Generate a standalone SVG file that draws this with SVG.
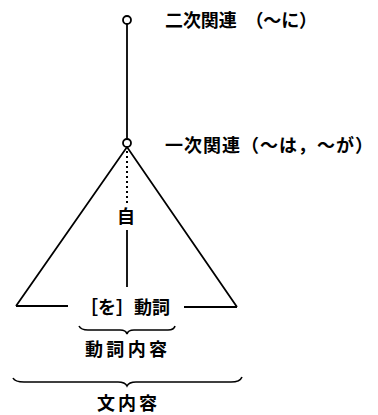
<svg xmlns="http://www.w3.org/2000/svg" width="378" height="415" viewBox="0 0 378 415">
<style>
.ln{stroke:#000;stroke-width:1.8;fill:none}
.dot{stroke:#000;stroke-width:2;fill:none;stroke-dasharray:2 3}
.br{stroke:#000;stroke-width:1.6;fill:none}
.t{font-family:"Noto Sans CJK JP","Noto Sans CJK SC",sans-serif;font-size:18px;font-weight:bold;fill:#000}
.c{fill:#fff;stroke:#000;stroke-width:1.8}
</style>
<g id="connectors">
<line class="ln" x1="127" y1="24" x2="127" y2="139"/>
<path class="ln" d="M16,306 L127,147 L237,307"/>
<line class="ln" x1="16" y1="306" x2="68" y2="306"/>
<line class="ln" x1="184" y1="307" x2="237" y2="307"/>
<line class="dot" x1="127" y1="151" x2="127" y2="206"/>
<line class="ln" x1="127" y1="230" x2="127" y2="287"/>
</g>
<g id="node-secondary">
<circle class="c" cx="127" cy="20" r="4"/>
<text class="t" x="165" y="27" textLength="152" lengthAdjust="spacing">二次関連　（～に）</text>
</g>
<g id="node-primary">
<circle class="c" cx="127" cy="143" r="4"/>
<text class="t" x="165" y="152" textLength="208" lengthAdjust="spacing">一次関連（～は，～が）</text>
</g>
<g id="node-ji">
<text class="t" x="126" y="223" text-anchor="middle" font-size="14">自</text>
</g>
<g id="node-verb">
<text class="t" x="80" y="314" textLength="90" lengthAdjust="spacing">［を］動詞</text>
</g>
<g id="node-verb-content">
<path class="br" d="M79,326 Q81,330 88,330 L120,330 Q126,330 127,334 Q128,330 134,330 L168,330 Q174,330 175,326"/>
<text class="t" x="85" y="356" textLength="82" lengthAdjust="spacing">動詞内容</text>
</g>
<g id="node-sentence-content">
<path class="br" d="M13,378 Q15,382 24,382 L118,382 Q125,382 127,386 Q129,382 136,382 L231,382 Q240,382 242,377"/>
<text class="t" x="97" y="410" textLength="60" lengthAdjust="spacing" font-size="20">文内容</text>
</g>
</svg>
